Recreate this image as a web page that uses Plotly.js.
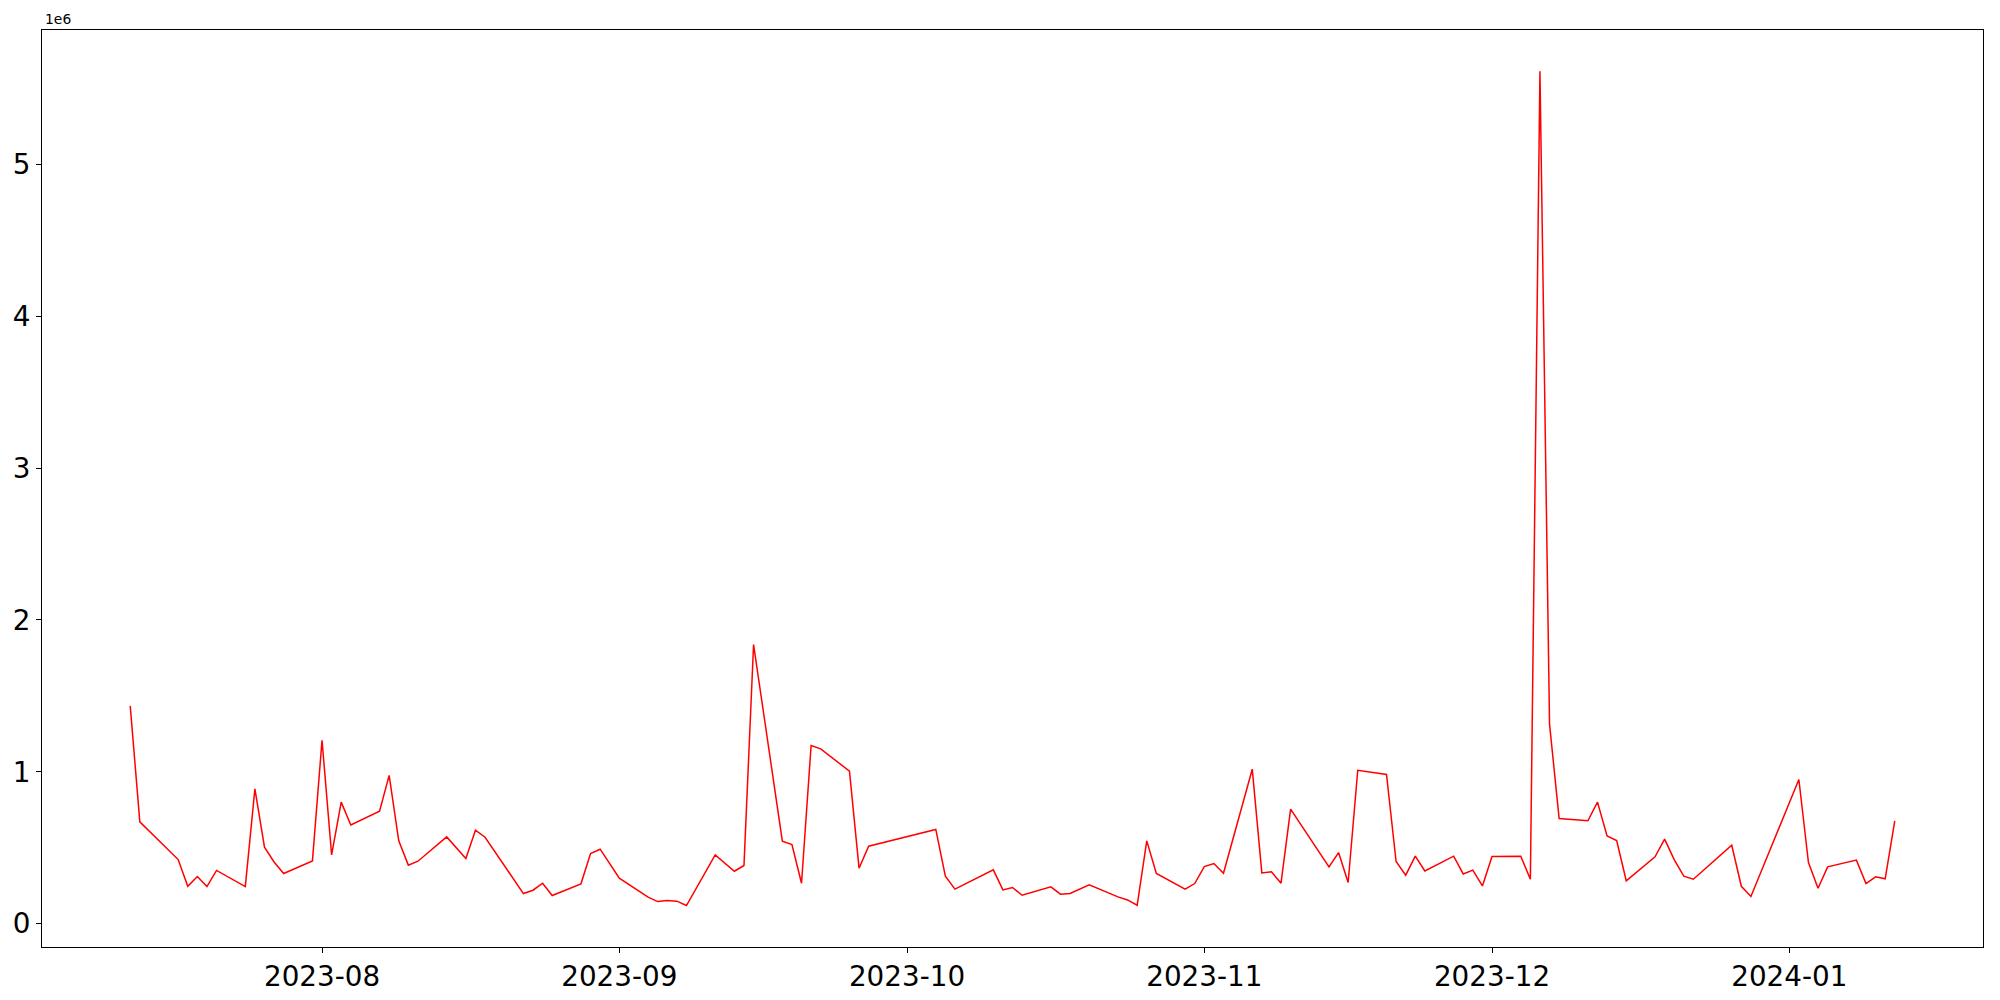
<!DOCTYPE html>
<html>
<head>
<meta charset="utf-8">
<script src="https://cdn.plot.ly/plotly-3.0.1.min.js"></script>
<style>
  html, body { margin: 0; padding: 0; background: #ffffff; }
  #chart { width: 2000px; height: 1000px; }
</style>
</head>
<body>
<div id="chart"></div>
<script>
const dates = [
  "2023-07-12","2023-07-13","2023-07-17","2023-07-18","2023-07-19","2023-07-20","2023-07-21",
  "2023-07-24","2023-07-25","2023-07-26","2023-07-27","2023-07-28","2023-07-31",
  "2023-08-01","2023-08-02","2023-08-03","2023-08-04","2023-08-07","2023-08-08","2023-08-09",
  "2023-08-10","2023-08-11","2023-08-14","2023-08-16","2023-08-17","2023-08-18","2023-08-22",
  "2023-08-23","2023-08-24","2023-08-25","2023-08-28","2023-08-29","2023-08-30",
  "2023-09-01","2023-09-04","2023-09-05","2023-09-06","2023-09-07","2023-09-08","2023-09-11",
  "2023-09-13","2023-09-14","2023-09-15","2023-09-18","2023-09-19","2023-09-20","2023-09-21",
  "2023-09-22","2023-09-25","2023-09-26","2023-09-27",
  "2023-10-04","2023-10-05","2023-10-06","2023-10-10","2023-10-11","2023-10-12","2023-10-13",
  "2023-10-16","2023-10-17","2023-10-18","2023-10-19","2023-10-20","2023-10-23","2023-10-24",
  "2023-10-25","2023-10-26","2023-10-27","2023-10-30","2023-10-31",
  "2023-11-01","2023-11-02","2023-11-03","2023-11-06","2023-11-07","2023-11-08","2023-11-09",
  "2023-11-10","2023-11-14","2023-11-15","2023-11-16","2023-11-17","2023-11-20","2023-11-21",
  "2023-11-22","2023-11-23","2023-11-24","2023-11-27","2023-11-28","2023-11-29","2023-11-30",
  "2023-12-01","2023-12-04","2023-12-05","2023-12-06","2023-12-07","2023-12-08","2023-12-11",
  "2023-12-12","2023-12-13","2023-12-14","2023-12-15","2023-12-18","2023-12-19","2023-12-20",
  "2023-12-21","2023-12-22","2023-12-26","2023-12-27","2023-12-28",
  "2024-01-02","2024-01-03","2024-01-04","2024-01-05","2024-01-08","2024-01-09","2024-01-10",
  "2024-01-11","2024-01-12"
];

const volumes = [
  1434000, 670000, 422000, 246000, 310000, 244000, 350000,
  244000, 887000, 503000, 406000, 330000, 413000,
  1208000, 453000, 800000, 650000, 740000, 976000, 545000,
  385000, 411000, 571000, 429000, 615000, 569000, 198000,
  220000, 266000, 185000, 262000, 462000, 490000,
  299000, 174000, 145000, 152000, 148000, 119000, 453000,
  345000, 383000, 1838000, 543000, 521000, 266000, 1173000,
  1151000, 1004000, 365000, 510000,
  620000, 312000, 227000, 354000, 222000, 238000, 187000,
  242000, 194000, 198000, 225000, 255000, 176000, 156000,
  121000, 545000, 330000, 227000, 264000,
  376000, 396000, 332000, 1017000, 334000, 341000, 266000,
  754000, 374000, 468000, 271000, 1010000, 982000, 409000,
  319000, 444000, 347000, 444000, 327000, 352000, 248000,
  442000, 444000, 292000, 5613000, 1314000, 692000, 677000,
  800000, 578000, 547000, 282000, 440000, 556000, 422000,
  312000, 292000, 516000, 246000, 179000,
  949000, 402000, 233000, 374000, 418000, 264000, 308000,
  295000, 677000
];

const xTickVals = ["2023-08-01","2023-09-01","2023-10-01","2023-11-01","2023-12-01","2024-01-01"];
const xTickText = ["2023-08","2023-09","2023-10","2023-11","2023-12","2024-01"];
const yTickVals = [0, 1000000, 2000000, 3000000, 4000000, 5000000];
const yTickText = ["0","1","2","3","4","5"];
const offsetLabel = "1e6";

const font = "DejaVu Sans, Liberation Sans, sans-serif";

const trace = {
  x: dates,
  y: volumes,
  type: "scatter",
  mode: "lines",
  line: { color: "#ff0000", width: 1.5 },
  hoverinfo: "x+y"
};

const layout = {
  width: 2000,
  height: 1000,
  margin: { l: 42, r: 17, t: 30, b: 53, pad: 0 },
  paper_bgcolor: "#ffffff",
  plot_bgcolor: "#ffffff",
  showlegend: false,
  font: { family: font, color: "#000000" },
  xaxis: {
    type: "date",
    range: ["2023-07-02 19:12", "2024-01-21 04:48"],
    tickmode: "array",
    tickvals: xTickVals,
    ticktext: xTickText,
    tickfont: { family: font, size: 27.8, color: "#000000" },
    ticks: "outside",
    ticklen: 5,
    tickwidth: 1,
    tickcolor: "#000000",
    showgrid: false,
    zeroline: false,
    showline: true,
    linecolor: "#000000",
    linewidth: 1,
    mirror: true
  },
  yaxis: {
    range: [-154000, 5885000],
    tickmode: "array",
    tickvals: yTickVals,
    ticktext: yTickText,
    tickfont: { family: font, size: 27.8, color: "#000000" },
    ticks: "outside",
    ticklen: 5,
    tickwidth: 1,
    tickcolor: "#000000",
    showgrid: false,
    zeroline: false,
    showline: true,
    linecolor: "#000000",
    linewidth: 1,
    mirror: true
  },
  annotations: [{
    text: offsetLabel,
    xref: "paper", yref: "paper",
    x: 0, y: 1,
    xanchor: "left", yanchor: "bottom",
    xshift: 1, yshift: 1,
    showarrow: false,
    font: { family: font, size: 13.9, color: "#000000" }
  }]
};

Plotly.newPlot("chart", [trace], layout, { staticPlot: true, displayModeBar: false });
</script>
</body>
</html>
